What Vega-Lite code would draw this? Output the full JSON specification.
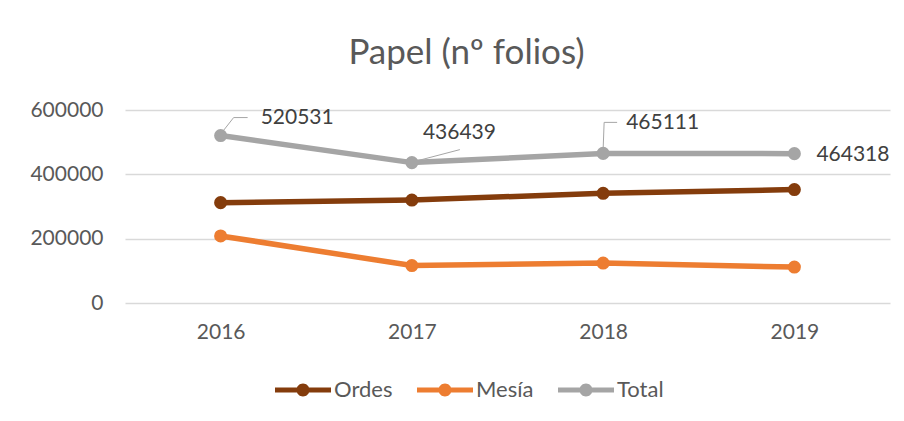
{
  "$schema": "https://vega.github.io/schema/vega-lite/v6.json",
  "width": 765,
  "height": 193,
  "autosize": {"type": "none"},
  "padding": {"left": 125, "top": 110, "right": 14, "bottom": 118},
  "background": "white",
  "config": {"font": "Lato", "view": {"stroke": null}},
  "title": {"text": "Papel (nº folios)", "fontSize": 35, "fontWeight": "normal", "color": "#595959", "anchor": "middle", "dx": -41, "dy": 46, "offset": 46, "baseline": "alphabetic", "font": "Lato"},
  "data": {"values": [
    {"year": "2016", "serie": "Ordes", "value": 312000},
    {"year": "2017", "serie": "Ordes", "value": 320000},
    {"year": "2018", "serie": "Ordes", "value": 341000},
    {"year": "2019", "serie": "Ordes", "value": 352618},
    {"year": "2016", "serie": "Mesía", "value": 208531},
    {"year": "2017", "serie": "Mesía", "value": 116439},
    {"year": "2018", "serie": "Mesía", "value": 124111},
    {"year": "2019", "serie": "Mesía", "value": 111700},
    {"year": "2016", "serie": "Total", "value": 520531},
    {"year": "2017", "serie": "Total", "value": 436439},
    {"year": "2018", "serie": "Total", "value": 465111},
    {"year": "2019", "serie": "Total", "value": 464318}
  ]},
  "encoding": {
    "x": {"field": "year", "type": "ordinal", "scale": {"type": "point", "padding": 0.5},
      "axis": {"title": null, "labelAngle": 0, "labelFontSize": 21, "labelColor": "#595959", "ticks": false, "domain": false, "grid": false, "labelBaseline": "middle", "labelPadding": 29}},
    "y": {"field": "value", "type": "quantitative", "scale": {"domain": [0, 600000], "nice": false},
      "axis": {"title": null, "values": [0, 200000, 400000, 600000], "format": "d", "labelFontSize": 21, "labelColor": "#595959", "ticks": false, "domain": false, "gridColor": "#D9D9D9", "gridWidth": 1.5, "labelPadding": 22}}
  },
  "layer": [
    {
      "mark": {"type": "line", "strokeWidth": 5.5},
      "encoding": {
        "color": {"field": "serie", "type": "nominal", "scale": {"domain": ["Ordes", "Mesía", "Total"], "range": ["#843C0C", "#ED7D31", "#A5A5A5"]}}
      }
    },
    {
      "mark": {"type": "point", "filled": true, "size": 170, "opacity": 1},
      "encoding": {
        "color": {"field": "serie", "type": "nominal", "scale": {"domain": ["Ordes", "Mesía", "Total"], "range": ["#843C0C", "#ED7D31", "#A5A5A5"]},
          "legend": {"title": null, "orient": "none", "legendX": 150, "legendY": 252, "direction": "horizontal",
            "symbolType": "M-1,-0.09L1,-0.09L1,0.09L-1,0.09Z M0.232,0A0.232,0.232,0,1,1,-0.232,0A0.232,0.232,0,1,1,0.232,0Z",
            "symbolSize": 3136, "symbolStrokeWidth": 0, "symbolOpacity": 1, "labelFontSize": 22, "labelColor": "#595959", "labelOffset": 3, "columnPadding": 24}}
      }
    },
    {
      "transform": [{"filter": "datum.serie == 'Total' && datum.year == '2016'"}],
      "mark": {"type": "text", "align": "left", "dx": 40, "dy": -18, "fontSize": 21, "color": "#404040"},
      "encoding": {"text": {"field": "value", "type": "quantitative", "format": "d"}}
    },
    {
      "transform": [{"filter": "datum.serie == 'Total' && datum.year == '2017'"}],
      "mark": {"type": "text", "align": "left", "dx": 11, "dy": -30, "fontSize": 21, "color": "#404040"},
      "encoding": {"text": {"field": "value", "type": "quantitative", "format": "d"}}
    },
    {
      "transform": [{"filter": "datum.serie == 'Total' && datum.year == '2018'"}],
      "mark": {"type": "text", "align": "left", "dx": 23, "dy": -30, "fontSize": 21, "color": "#404040"},
      "encoding": {"text": {"field": "value", "type": "quantitative", "format": "d"}}
    },
    {
      "transform": [{"filter": "datum.serie == 'Total' && datum.year == '2019'"}],
      "mark": {"type": "text", "align": "left", "dx": 22, "dy": 1, "fontSize": 21, "color": "#404040"},
      "encoding": {"text": {"field": "value", "type": "quantitative", "format": "d"}}
    },
    {
      "transform": [{"filter": "datum.serie == 'Total' && datum.year == '2016'"}],
      "mark": {"type": "rule", "color": "#A6A6A6", "strokeWidth": 1, "xOffset": 2, "yOffset": -4, "x2Offset": 13, "y2Offset": -18},
      "encoding": {"x2": {"field": "year"}, "y2": {"field": "value"}}
    },
    {
      "transform": [{"filter": "datum.serie == 'Total' && datum.year == '2016'"}],
      "mark": {"type": "rule", "color": "#A6A6A6", "strokeWidth": 1, "xOffset": 13, "yOffset": -18, "x2Offset": 27, "y2Offset": -18},
      "encoding": {"x2": {"field": "year"}, "y2": {"field": "value"}}
    },
    {
      "transform": [{"filter": "datum.serie == 'Total' && datum.year == '2017'"}],
      "mark": {"type": "rule", "color": "#A6A6A6", "strokeWidth": 1, "xOffset": 6, "yOffset": -2, "x2Offset": 48, "y2Offset": -13},
      "encoding": {"x2": {"field": "year"}, "y2": {"field": "value"}}
    },
    {
      "transform": [{"filter": "datum.serie == 'Total' && datum.year == '2018'"}],
      "mark": {"type": "rule", "color": "#A6A6A6", "strokeWidth": 1, "xOffset": 0, "yOffset": -4, "x2Offset": 1, "y2Offset": -31},
      "encoding": {"x2": {"field": "year"}, "y2": {"field": "value"}}
    },
    {
      "transform": [{"filter": "datum.serie == 'Total' && datum.year == '2018'"}],
      "mark": {"type": "rule", "color": "#A6A6A6", "strokeWidth": 1, "xOffset": 1, "yOffset": -31, "x2Offset": 14, "y2Offset": -31},
      "encoding": {"x2": {"field": "year"}, "y2": {"field": "value"}}
    }
  ]
}
